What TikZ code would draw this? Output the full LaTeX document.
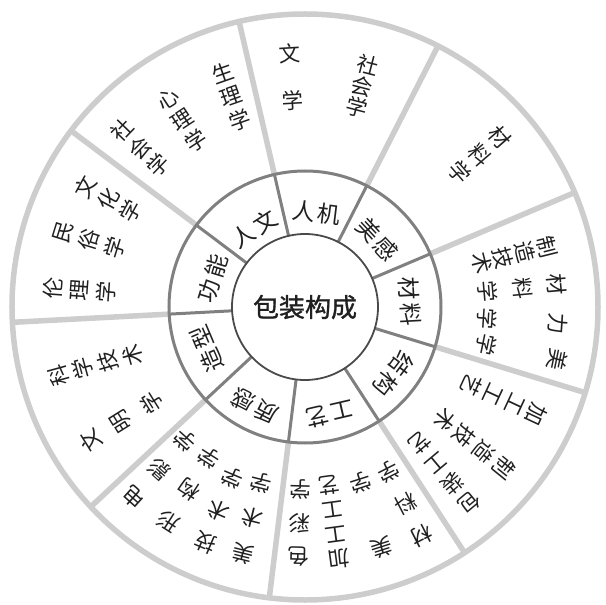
\documentclass[tikz,border=0pt]{standalone}
\usepackage{fontspec}
\newfontfamily\cjk{Noto Sans CJK SC}
\newfontfamily\cjkring[LetterSpace=12]{Noto Sans CJK SC}
\newfontfamily\cjkhub[FakeBold=1.2]{Noto Sans CJK SC}
\definecolor{rimgray}{HTML}{CDCDCD}
\definecolor{ringgray}{HTML}{808080}
\definecolor{hubgray}{HTML}{4A4A4A}
\definecolor{inkgray}{HTML}{202020}
\begin{document}
\begin{tikzpicture}[x=1pt,y=1pt,
    rim/.style={draw=rimgray,line width=5.5pt},
    ring/.style={draw=ringgray,line width=3pt},
    chr/.style={text=inkgray,inner sep=0pt,font=\cjk\fontsize{21.5}{22}\selectfont}]
  \tikzstyle{seglabel}=[text=inkgray,inner sep=0pt,font=\cjkring\fontsize{23}{23}\selectfont]

  \useasboundingbox (-305,-298) rectangle (300,307);

  \draw[rim] (0,0) circle (293);
  \foreach \a in {103,63,...,-217}
    \draw[rim] (\a:136) -- (\a:293);

  \draw[ring] (0,0) circle (136);
  \foreach \a in {103,63,...,-217}
    \draw[ring] (\a:73) -- (\a:136);

  \node[circle,draw=hubgray,line width=1.8pt,fill=white,minimum size=146,
    text=inkgray,font=\cjkhub\fontsize{26}{26}\selectfont] (hub) at (0,0) {包装构成};

  \foreach \t/\txt/\r [count=\k] in {83/人机/95,43/美感/99,3/材料/105,-37/结构/111,
      -77/工艺/110,-117/质感/111,-157/造型/107,163/功能/97,123/人文/93}
    \node[seglabel,rotate=\t-90] (seg\k) at (\t:\r) {\txt};

  \foreach \a/\ra/\rb/\n/\chars [count=\c] in {
      93.4/254/207/2/{文,学},75.5/250/206/3/{社,会,学},
      41/258/205/3/{材,料,学},
      14/249/182/4/{制,造,技,术},5/253/183/3/{材,料,学},
      -3.8/253/182/2/{力,学},-11.7/258/185/2/{美,学},
      -25/255/184/4/{加,工,工,艺},-39/256/180/4/{制,造,技,术},
      -50/256/178/4/{包,装,工,艺},
      -63/257/185/3/{材,料,学},-72.3/253/184/2/{美,学},
      -82.3/254/180/4/{加,工,工,艺},-91.5/250/183/3/{色,彩,学},
      -104/254/181/3/{美,术,学},-113/256/186/3/{技,术,学},
      -122.5/254/179/3/{形,构,学},-132/256/180/3/{电,影,学},
      -148/252/181/3/{文,明,学},-164.5/256/179/4/{科,学,技,术},
      175.7/253/200/3/{伦,理,学},162.8/253/199/3/{民,俗,学},
      151.3/250/199/3/{文,化,学},
      136/254/204/3/{社,会,学},123.3/249/199/3/{心,理,学},
      109.3/248/198/3/{生,理,学}}
    \foreach \ch [count=\i] in \chars
      \node[chr,rotate=\a-90] (col\c-\i) at (\a:{\ra-(\i-1)*(\ra-\rb)/(\n-1)}) {\ch};

\end{tikzpicture}
\end{document}
